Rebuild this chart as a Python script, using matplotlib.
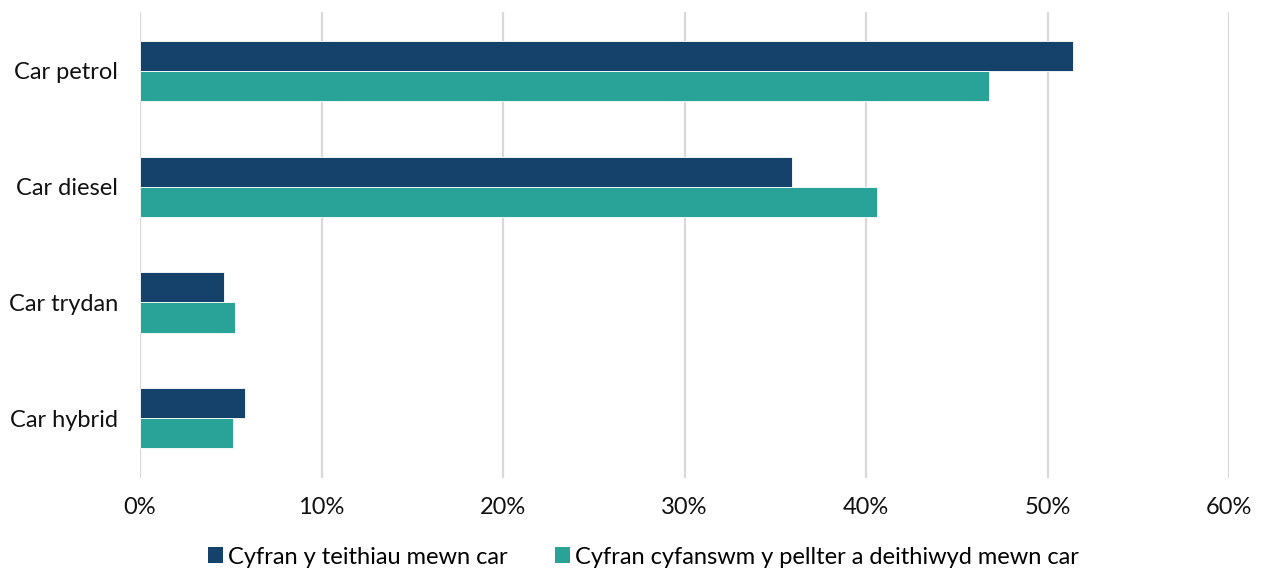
import numpy as np
import matplotlib
matplotlib.use("Agg")
import matplotlib.pyplot as plt
from matplotlib.patches import Patch

plt.rcParams["font.family"] = ["Lato", "DejaVu Sans"]

categories = ["Car petrol", "Car diesel", "Car trydan", "Car hybrid"]
trips = [51.4, 35.9, 4.65, 5.8]
distance = [46.8, 40.6, 5.25, 5.15]
series_labels = ["Cyfran y teithiau mewn car",
                 "Cyfran cyfanswm y pellter a deithiwyd mewn car"]
xticks = [0, 10, 20, 30, 40, 50, 60]
xtick_labels = ["0%", "10%", "20%", "30%", "40%", "50%", "60%"]

DARK = "#14426b"
TEAL = "#29a398"

fig = plt.figure(figsize=(12.64, 5.72), dpi=100)
ax = fig.add_axes([140 / 1264, 1 - 478 / 572, (1229 - 140) / 1264, (478 - 12) / 572])

y = np.arange(len(categories))
h = 0.26
ax.barh(y - h / 2, trips, height=h, color=DARK, edgecolor="white", linewidth=0.6, zorder=3)
ax.barh(y + h / 2, distance, height=h, color=TEAL, edgecolor="white", linewidth=0.6, zorder=3)

ax.set_xlim(0, 60)
ax.set_ylim(3.517, -0.509)
ax.set_xticks(xticks)
ax.set_xticklabels(xtick_labels, fontsize=17, color="#111111")
ax.set_yticks(y)
ax.set_yticklabels(categories, fontsize=17, color="#111111")
ax.tick_params(axis="both", length=0)
ax.tick_params(axis="x", pad=14)
ax.tick_params(axis="y", pad=16)
ax.grid(True, axis="x", color="#d9d9d9", linewidth=1.6, zorder=0)
ax.set_axisbelow(True)
for s in ax.spines.values():
    s.set_visible(False)

handles = [Patch(facecolor=DARK, label=series_labels[0]),
           Patch(facecolor=TEAL, label=series_labels[1])]
fig.legend(handles=handles, loc="center", bbox_to_anchor=(0.509, 1 - 557 / 572),
           ncol=2, frameon=False, fontsize=17, handlelength=0.65, handleheight=0.65,
           handletextpad=0.2, columnspacing=2.0)

fig.savefig("out.png", dpi=100, facecolor="white")
